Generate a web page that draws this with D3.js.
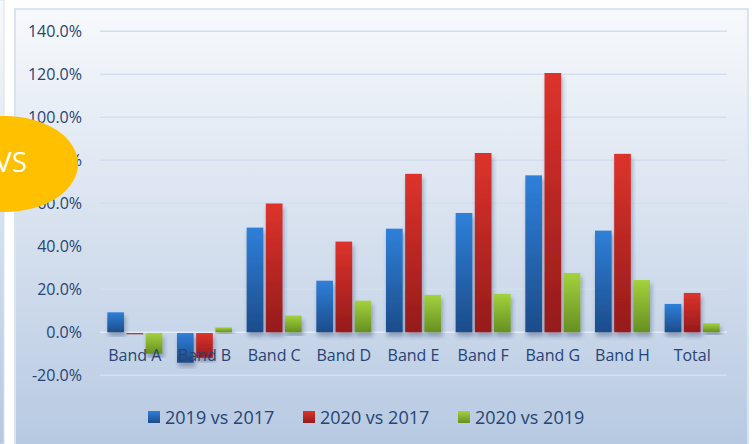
<!DOCTYPE html>
<html>
<head>
<meta charset="utf-8">
<script src="https://cdn.jsdelivr.net/npm/d3@7/dist/d3.min.js"></script>
<style>
  html, body { margin: 0; padding: 0; background: #ffffff; }
  svg { display: block; }
  text { font-family: "Open Sans", "Noto Sans", sans-serif; }
</style>
</head>
<body>
<svg id="chart" width="752" height="444"></svg>
<script>
// Growth by band, in percent
const categories = ["Band A", "Band B", "Band C", "Band D", "Band E", "Band F", "Band G", "Band H", "Total"];
const seriesNames = ["2019 vs 2017", "2020 vs 2017", "2020 vs 2019"];
const growth2019vs2017 = [9.3, -13.8, 48.7, 24.0, 48.2, 55.5, 73.0, 47.3, 13.2];
const growth2020vs2017 = [-0.5, -11.5, 59.9, 42.2, 73.7, 83.4, 120.6, 83.0, 18.3];
const growth2020vs2019 = [-9.6, 2.3, 7.8, 14.7, 17.4, 17.9, 27.6, 24.3, 4.2];
const yTicks = [-20, 0, 20, 40, 60, 80, 100, 120, 140];

const seriesValues = [growth2019vs2017, growth2020vs2017, growth2020vs2019];
const palette = [
  { id: "gBlue",  top: "#2f80da", bottom: "#1c4c8a" },
  { id: "gRed",   top: "#dd332b", bottom: "#951b1b" },
  { id: "gGreen", top: "#a3d23c", bottom: "#668f22" }
];

const svg = d3.select("#chart");
const defs = svg.append("defs");

// background gradient of the chart panel
const bg = defs.append("linearGradient").attr("id", "bgGrad")
  .attr("x1", 0).attr("y1", 0).attr("x2", 0).attr("y2", 1);
bg.append("stop").attr("offset", "0%").attr("stop-color", "#f7f9fc");
bg.append("stop").attr("offset", "100%").attr("stop-color", "#b5c8e1");

palette.forEach(p => {
  const g = defs.append("linearGradient").attr("id", p.id)
    .attr("x1", 0).attr("y1", 0).attr("x2", 0).attr("y2", 1);
  g.append("stop").attr("offset", "0%").attr("stop-color", p.top);
  g.append("stop").attr("offset", "100%").attr("stop-color", p.bottom);
});

const shadow = defs.append("filter").attr("id", "barShadow")
  .attr("x", "-30%").attr("y", "-10%").attr("width", "160%").attr("height", "130%");
shadow.append("feDropShadow").attr("dx", 1.5).attr("dy", 4)
  .attr("stdDeviation", 2).attr("flood-color", "#1a2f55").attr("flood-opacity", 0.35);

// neighbouring panel edge on the far left
svg.append("rect").attr("x", -20).attr("y", 0).attr("width", 24).attr("height", 444)
  .attr("fill", "url(#bgGrad)").attr("stroke", "#d8e3f0").attr("stroke-width", 1);

// main chart panel
svg.append("rect").attr("x", 15).attr("y", 9).attr("width", 733).attr("height", 450)
  .attr("fill", "url(#bgGrad)").attr("stroke", "#d9e4f2").attr("stroke-width", 2);

const plotLeft = 100, plotRight = 727;

const y = d3.scaleLinear().domain([-20, 140]).range([375.3, 31.3]);
const x0 = d3.scaleBand().domain(categories).range([plotLeft, plotRight])
  .paddingInner(0.21).paddingOuter(0.105);
const x1 = d3.scaleBand().domain(seriesNames).range([0, x0.bandwidth()])
  .paddingInner(0.13);

// gridlines
svg.append("g").selectAll("line").data(yTicks.filter(t => t !== 0)).join("line")
  .attr("x1", plotLeft).attr("x2", plotRight)
  .attr("y1", d => y(d)).attr("y2", d => y(d))
  .attr("stroke", "#d3dff0").attr("stroke-width", 1.5);

// zero line
svg.append("line").attr("x1", plotLeft).attr("x2", plotRight)
  .attr("y1", y(0)).attr("y2", y(0))
  .attr("stroke", "#e3ebf6").attr("stroke-width", 1.5);

// y axis labels
const yAxis = d3.axisLeft(y).tickValues(yTicks).tickFormat(d => d.toFixed(1) + "%")
  .tickSize(0).tickPadding(0);
const yAxisG = svg.append("g").attr("transform", "translate(82,0)").call(yAxis);
yAxisG.select(".domain").remove();
yAxisG.selectAll("text")
  .attr("fill", "#284474").style("font-size", "16px")
  .style("font-family", "'Open Sans', sans-serif");

// bars
const groups = svg.append("g").selectAll("g").data(categories).join("g")
  .attr("transform", c => `translate(${x0(c)},0)`);

groups.selectAll("rect")
  .data((c, i) => seriesNames.map((s, k) => ({ s, k, v: seriesValues[k][i] })))
  .join("rect")
  .attr("x", d => x1(d.s))
  .attr("width", x1.bandwidth())
  .attr("y", d => y(Math.max(0, d.v)) + (d.v < 0 ? 0.75 : 0))
  .attr("height", d => Math.max(1.2, Math.abs(y(d.v) - y(0))))
  .attr("fill", d => `url(#${palette[d.k].id})`)
  .attr("filter", "url(#barShadow)");

// category labels
const xAxis = d3.axisBottom(x0).tickSize(0).tickPadding(0);
const xAxisG = svg.append("g").attr("transform", `translate(0,${y(0)})`).call(xAxis);
xAxisG.select(".domain").remove();
xAxisG.selectAll("text")
  .attr("y", 29).attr("dy", 0)
  .attr("fill", "#284474").style("font-size", "16px")
  .style("font-family", "'Open Sans', sans-serif");

// legend
const legendX = [148, 303, 458];
const legend = svg.append("g").selectAll("g").data(seriesNames).join("g")
  .attr("transform", (d, i) => `translate(${legendX[i]},411)`);
legend.append("rect").attr("width", 12).attr("height", 12)
  .attr("fill", (d, i) => `url(#${palette[i].id})`);
legend.append("text").attr("x", 17).attr("y", 13)
  .attr("fill", "#284474").style("font-size", "18px").text(d => d);

// yellow badge at the left edge
svg.append("ellipse").attr("cx", 5).attr("cy", 164).attr("rx", 73).attr("ry", 48)
  .attr("fill", "#ffc000");
svg.append("text").attr("x", 27).attr("y", 172).attr("text-anchor", "end")
  .attr("fill", "#ffffff").style("font-size", "28px").text("VS");
</script>
</body>
</html>
